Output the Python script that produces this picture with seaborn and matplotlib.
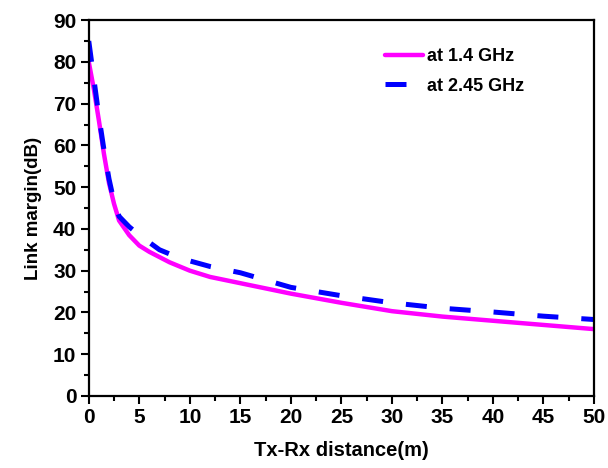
import matplotlib
matplotlib.use("Agg")
import matplotlib.pyplot as plt
import seaborn as sns
import pandas as pd
from matplotlib.ticker import MultipleLocator

dist_14 = [0, 0.5, 1, 1.5, 2, 2.5, 3, 4, 5, 6, 8, 10, 12, 15, 20, 25, 30, 35, 40, 45, 50]
margin_14 = [80, 73.5, 66, 58, 51, 46, 42, 38.5, 36, 34.5, 32, 30, 28.5, 27, 24.5, 22.3, 20.3, 19, 18, 17, 16]

dist_245 = [0, 0.5, 1, 1.5, 2, 2.5, 3, 4, 5, 7, 9, 12, 15, 20, 25, 30, 35, 40, 45, 50]
margin_245 = [85, 76, 67, 59, 52, 46.5, 43, 40.5, 38.5, 35, 33, 31, 29.5, 26, 24, 22.3, 21, 20.1, 19.1, 18.3]

labels = ["at 1.4 GHz", "at 2.45 GHz"]

sns.set_style("white")
plt.rcParams["font.family"] = ["Liberation Sans", "DejaVu Sans"]
plt.rcParams["font.weight"] = "bold"
plt.rcParams["text.color"] = "black"
plt.rcParams["axes.labelcolor"] = "black"
plt.rcParams["xtick.color"] = "black"
plt.rcParams["ytick.color"] = "black"

fig = plt.figure(figsize=(6.08, 4.68), dpi=100)
ax = fig.add_axes([0.146, 0.154, 0.831, 0.803])

df1 = pd.DataFrame({"d": dist_14, "m": margin_14})
df2 = pd.DataFrame({"d": dist_245, "m": margin_245})

sns.lineplot(data=df1, x="d", y="m", ax=ax, color="#ff00ff", linewidth=3.2,
             label=labels[0], sort=False)
sns.lineplot(data=df2, x="d", y="m", ax=ax, color="#0000ff", linewidth=3.6,
             label=labels[1], sort=False)
ax.lines[1].set_dashes([4.2, 4.6])

ax.set_xlim(0, 50)
ax.set_ylim(0, 90)
ax.xaxis.set_major_locator(MultipleLocator(5))
ax.xaxis.set_minor_locator(MultipleLocator(2.5))
ax.yaxis.set_major_locator(MultipleLocator(10))
ax.yaxis.set_minor_locator(MultipleLocator(5))
ax.tick_params(axis="both", which="major", direction="out", length=6, width=1.5,
               labelsize=15, bottom=True, left=True, top=False, right=False, pad=3,
               colors="black")
ax.tick_params(axis="both", which="minor", direction="out", length=3.5, width=1.5,
               bottom=True, left=True, top=False, right=False, colors="black")
for lab in ax.get_xticklabels() + ax.get_yticklabels():
    lab.set_fontweight("bold")
for s in ax.spines.values():
    s.set_linewidth(1.6)
    s.set_color("black")

ax.set_xlabel("Tx-Rx distance(m)", fontsize=14.5, fontweight="bold", labelpad=10,
              color="black")
ax.set_ylabel("Link margin(dB)", fontsize=13.5, fontweight="bold", labelpad=8,
              color="black")

leg = ax.legend(loc="upper left", bbox_to_anchor=(385 / 608, 1 - 48 / 468),
                bbox_transform=fig.transFigure, frameon=False, borderpad=0,
                borderaxespad=0, fontsize=13, handlelength=2.1,
                handletextpad=0.2, labelspacing=0.7)
for t in leg.get_texts():
    t.set_fontweight("bold")
    t.set_color("black")

fig.savefig("out.png", dpi=100)
